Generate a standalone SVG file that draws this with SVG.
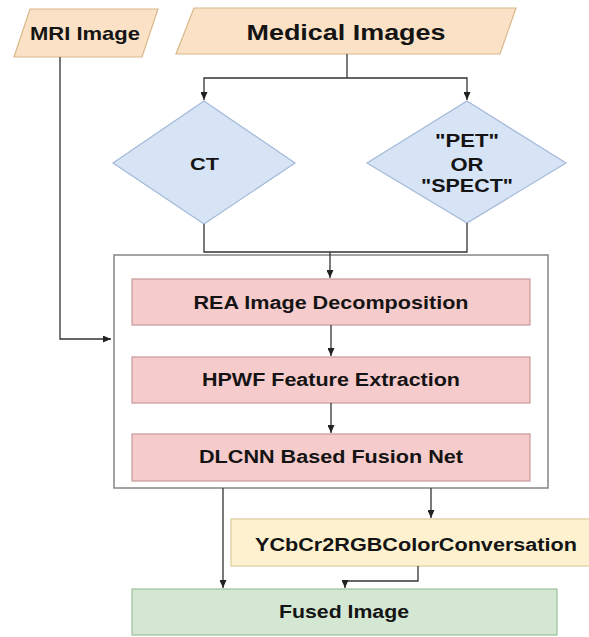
<svg xmlns="http://www.w3.org/2000/svg" width="589" height="637" viewBox="0 0 589 637">
<style>
.t{font-family:"Liberation Sans",Arial,sans-serif;font-weight:bold;fill:#141414;text-anchor:middle}
.para{fill:#fbe2c6;stroke:#d8b88a;stroke-width:1.2}
.dia{fill:#d7e4f6;stroke:#a3b9d9;stroke-width:1.2}
.pink{fill:#f6cbcb;stroke:#c99a9a;stroke-width:1.2}
.yel{fill:#fdf1cf;stroke:#dccb9a;stroke-width:1.2}
.grn{fill:#d4e7d3;stroke:#9cc29a;stroke-width:1.2}
.outer{fill:#ffffff;stroke:#858585;stroke-width:1.5}
.ln{fill:none;stroke:#333;stroke-width:1.3}
</style>
<defs>
<marker id="ah" markerUnits="userSpaceOnUse" markerWidth="8" markerHeight="7" refX="8" refY="3.5" orient="auto">
<path d="M0,0 L8,3.5 L0,7 z" fill="#222"/>
</marker>
</defs>
<rect width="589" height="637" fill="#ffffff"/>
<g id="outer-box"><rect class="outer" x="114" y="255" width="434" height="233"/></g>
<g id="mri"><polygon class="para" points="30,9 158,9 142,57 14,57"/><text class="t" x="85" y="40" font-size="19" textLength="110" lengthAdjust="spacingAndGlyphs">MRI Image</text></g>
<g id="medical"><polygon class="para" points="194,8 516,8 500,54 176,54"/><text class="t" x="346" y="40" font-size="22" textLength="199" lengthAdjust="spacingAndGlyphs">Medical Images</text></g>
<g id="ct"><polygon class="dia" points="204,101 295,163 204,224 113,163"/><text class="t" x="204.5" y="170" font-size="17" textLength="29" lengthAdjust="spacingAndGlyphs">CT</text></g>
<g id="pet"><polygon class="dia" points="467,101 566,163 467,223 367,163"/>
<text class="t" x="467" y="147" font-size="18" textLength="64" lengthAdjust="spacingAndGlyphs">"PET"</text>
<text class="t" x="467" y="171" font-size="18" textLength="33" lengthAdjust="spacingAndGlyphs">OR</text>
<text class="t" x="467" y="192" font-size="18" textLength="92" lengthAdjust="spacingAndGlyphs">"SPECT"</text></g>
<g id="rea"><rect class="pink" x="132" y="279" width="398" height="46"/><text class="t" x="331" y="309" font-size="18" textLength="275" lengthAdjust="spacingAndGlyphs">REA Image Decomposition</text></g>
<g id="hpwf"><rect class="pink" x="132" y="357" width="398" height="46"/><text class="t" x="331" y="386" font-size="18" textLength="258" lengthAdjust="spacingAndGlyphs">HPWF Feature Extraction</text></g>
<g id="dlcnn"><rect class="pink" x="132" y="434" width="398" height="47"/><text class="t" x="331" y="463" font-size="18" textLength="264" lengthAdjust="spacingAndGlyphs">DLCNN Based Fusion Net</text></g>
<g id="ycbcr"><rect class="yel" x="231" y="519" width="372" height="47"/><text class="t" x="416" y="551" font-size="18" textLength="322" lengthAdjust="spacingAndGlyphs">YCbCr2RGBColorConversation</text></g>
<g id="fused"><rect class="grn" x="132" y="589" width="425" height="46"/><text class="t" x="344" y="618" font-size="18" textLength="130" lengthAdjust="spacingAndGlyphs">Fused Image</text></g>
<g id="connectors">
<path class="ln" d="M60,57 V339 H111" marker-end="url(#ah)"/>
<path class="ln" d="M347,54 V78"/>
<path class="ln" d="M347,78 H204 V100" marker-end="url(#ah)"/>
<path class="ln" d="M347,78 H467 V100" marker-end="url(#ah)"/>
<path class="ln" d="M204,224 V252 H467 V223"/>
<path class="ln" d="M330,252 V278" marker-end="url(#ah)"/>
<path class="ln" d="M331,325 V356" marker-end="url(#ah)"/>
<path class="ln" d="M331,403 V433" marker-end="url(#ah)"/>
<path class="ln" d="M223,488 V588" marker-end="url(#ah)"/>
<path class="ln" d="M431,488 V518" marker-end="url(#ah)"/>
<path class="ln" d="M418,566 V581 H345 V588" marker-end="url(#ah)"/>
</g>
</svg>
